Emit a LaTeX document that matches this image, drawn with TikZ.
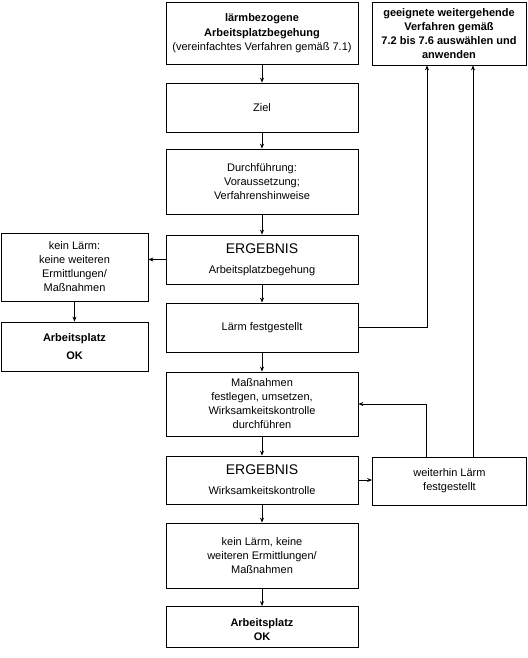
\documentclass[tikz,border=0pt]{standalone}
\usepackage{fontspec}
\setmainfont{Liberation Sans}
\usetikzlibrary{arrows.meta}
\tikzset{
  box/.style={draw, line width=0.8pt, inner sep=0pt, align=center,
    font=\fontsize{11}{14}\selectfont},
  arr/.style={line width=0.8pt, -{Stealth[length=5pt,width=4pt]}},
  ln/.style={line width=0.8pt}
}
\begin{document}
\begin{tikzpicture}[x=1pt,y=-1pt]
\useasboundingbox (0,0) rectangle (527,658);
% main column
\node[box, minimum width=192pt, minimum height=62pt] (b1) at (262,33)
  {\textbf{lärmbezogene}\\[1pt]\textbf{Arbeitsplatzbegehung}\\(vereinfachtes Verfahren gemäß 7.1)};
\node[box, minimum width=192pt, minimum height=49pt] (b2) at (262,107.5) {Ziel};
\node[box, minimum width=192pt, minimum height=65pt] (b3) at (262,181.5)
  {Durchführung:\\Voraussetzung;\\Verfahrenshinweise};
\node[box, minimum width=192pt, minimum height=49pt] (b4) at (262,259.5)
  {{\fontsize{14}{16}\selectfont ERGEBNIS}\\[6pt]Arbeitsplatzbegehung};
\node[box, minimum width=192pt, minimum height=49pt] (b5) at (262,327.5) {Lärm festgestellt};
\node[box, minimum width=192pt, minimum height=64pt] (b6) at (262,404)
  {Maßnahmen\\festlegen, umsetzen,\\Wirksamkeitskontrolle\\durchführen};
\node[box, minimum width=192pt, minimum height=48pt] (b7) at (262,480)
  {{\fontsize{14}{16}\selectfont ERGEBNIS}\\[6pt]Wirksamkeitskontrolle};
\node[box, minimum width=192pt, minimum height=65pt] (b8) at (262,555.5)
  {kein Lärm, keine\\weiteren Ermittlungen/\\Maßnahmen};
\node[box, minimum width=192pt, minimum height=41pt] (b9) at (262,627)
  {\rule{0pt}{14pt}\textbf{Arbeitsplatz}\\\textbf{OK}};
% left column
\node[box, minimum width=147pt, minimum height=68pt] (l1) at (74.5,267)
  {kein Lärm:\\keine weiteren\\Ermittlungen/\\Maßnahmen};
\node[box, minimum width=147pt, minimum height=49pt] (l2) at (74.5,346.5)
  {\textbf{Arbeitsplatz}\\[4pt]\textbf{OK}};
% right column
\node[box, minimum width=154pt, minimum height=63pt] (r1) at (449,33.5)
  {\textbf{geeignete weitergehende}\\\textbf{Verfahren gemäß}\\\textbf{7.2 bis 7.6 auswählen und}\\\textbf{anwenden}};
\node[box, minimum width=154pt, minimum height=48pt] (r2) at (449.5,481)
  {weiterhin Lärm\\festgestellt};
% connectors
\draw[arr] (b1) -- (b2);
\draw[arr] (b2) -- (b3);
\draw[arr] (b3) -- (b4);
\draw[arr] (b4) -- (b5);
\draw[arr] (b5) -- (b6);
\draw[arr] (b6) -- (b7);
\draw[arr] (b7) -- (b8);
\draw[arr] (b8) -- (b9);
\draw[arr] (b4.west) -- (b4.west -| l1.east);
\draw[arr] (l1) -- (l2);
\draw[arr] (b5.east) -| ([xshift=-22pt]r1.south);
\draw[arr] (b7.east) -- (b7.east -| r2.west);
\draw[arr] ([xshift=-23.5pt]r2.north) |- (b6.east);
\draw[arr] ([xshift=23.5pt]r2.north) -- ([xshift=24pt]r1.south);
\end{tikzpicture}
\end{document}
